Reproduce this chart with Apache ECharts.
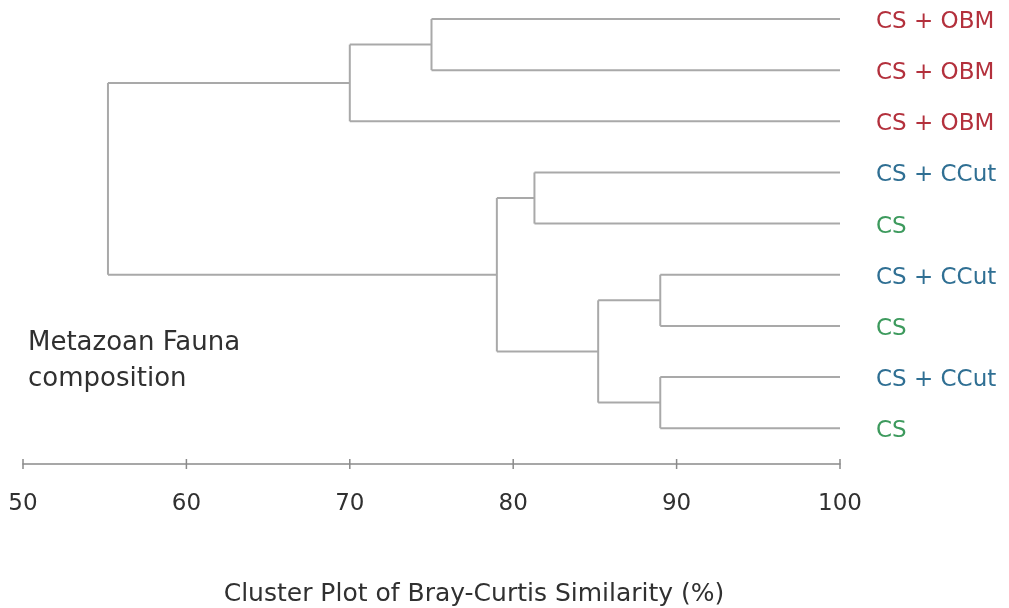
<!DOCTYPE html>
<html>
<head>
<meta charset="utf-8">
<script src="https://cdn.jsdelivr.net/npm/echarts@6/dist/echarts.min.js"></script>
<style>
  html, body { margin: 0; padding: 0; background: #ffffff; }
  #chart { width: 1009px; height: 608px; }
</style>
</head>
<body>
<div id="chart"></div>
<script>
// Leaves of the dendrogram, top to bottom
const leafNames = ['CS + OBM', 'CS + OBM', 'CS + OBM', 'CS + CCut', 'CS', 'CS + CCut', 'CS', 'CS + CCut', 'CS'];
const leafGroups = ['OBM', 'OBM', 'OBM', 'CCut', 'CS', 'CCut', 'CS', 'CCut', 'CS'];

// Agglomeration steps: node ids 0..8 are leaves, each merge creates node 9, 10, ...
const mergeA = [0, 9, 3, 5, 7, 12, 11, 10];
const mergeB = [1, 2, 4, 6, 8, 13, 14, 15];
const mergeSimilarity = [75, 70, 81.3, 89, 89, 85.2, 79, 55.2];

// Axis ticks
const xTicks = [50, 60, 70, 80, 90, 100];

const groupColors = { OBM: '#b3303c', CCut: '#2f6f93', CS: '#3d9a5d' };

// Node positions in data space: x = similarity, y = leaf slot
const nodeX = leafNames.map(() => 100);
const nodeY = leafNames.map((_, i) => i);
const segments = [];
mergeA.forEach((a, k) => {
  const b = mergeB[k];
  const s = mergeSimilarity[k];
  segments.push([nodeX[a], nodeY[a], s, nodeY[a]]);
  segments.push([nodeX[b], nodeY[b], s, nodeY[b]]);
  segments.push([s, nodeY[a], s, nodeY[b]]);
  nodeX.push(s);
  nodeY.push((nodeY[a] + nodeY[b]) / 2);
});

const leafData = leafNames.map((name, i) => [100, i, name, leafGroups[i]]);

const fontFamily = '"DejaVu Sans", Verdana, sans-serif';
const yMax = 8.7;
const axisColor = '#8a8a8a';
const textColor = '#303030';

const chart = echarts.init(document.getElementById('chart'));
chart.setOption({
  backgroundColor: '#ffffff',
  animation: false,
  grid: { left: 23, right: 169, top: 19, bottom: 144, containLabel: false },
  xAxis: {
    type: 'value', min: xTicks[0], max: xTicks[xTicks.length - 1], interval: 10,
    position: 'bottom',
    axisLine: { onZero: false, lineStyle: { color: axisColor, width: 1.5 } },
    axisTick: { show: false },
    axisLabel: { fontSize: 23, color: textColor, margin: 29, fontFamily: fontFamily },
    splitLine: { show: false }
  },
  yAxis: {
    type: 'value', min: 0, max: yMax, inverse: true, show: false
  },
  series: [
    {
      // dendrogram branches
      type: 'custom',
      coordinateSystem: 'cartesian2d',
      data: segments,
      encode: { x: [0, 2], y: [1, 3] },
      renderItem: function (params, api) {
        const p1 = api.coord([api.value(0), api.value(1)]);
        const p2 = api.coord([api.value(2), api.value(3)]);
        return {
          type: 'line',
          shape: { x1: p1[0], y1: p1[1], x2: p2[0], y2: p2[1] },
          style: { stroke: '#a9a9a9', lineWidth: 2 }
        };
      },
      silent: true
    },
    {
      // tick marks crossing the axis line
      type: 'custom',
      coordinateSystem: 'cartesian2d',
      data: xTicks.map(v => [v, yMax]),
      renderItem: function (params, api) {
        const p = api.coord([api.value(0), api.value(1)]);
        return {
          type: 'line',
          shape: { x1: p[0], y1: p[1] - 5, x2: p[0], y2: p[1] + 5 },
          style: { stroke: axisColor, lineWidth: 1.5 }
        };
      },
      clip: false,
      silent: true
    },
    {
      // leaf labels
      type: 'custom',
      coordinateSystem: 'cartesian2d',
      data: leafData,
      encode: { x: 0, y: 1 },
      renderItem: function (params, api) {
        const p = api.coord([api.value(0), api.value(1)]);
        const item = leafData[params.dataIndex];
        return {
          type: 'text',
          x: p[0] + 36,
          y: p[1] + 3,
          style: {
            text: item[2],
            fill: groupColors[item[3]],
            font: '23px ' + fontFamily,
            textAlign: 'left',
            textVerticalAlign: 'middle'
          }
        };
      },
      silent: true
    }
  ],
  graphic: [
    {
      type: 'text', left: 28, top: 325,
      style: {
        text: 'Metazoan Fauna\ncomposition',
        fill: textColor,
        font: '26px ' + fontFamily,
        lineHeight: 36
      }
    },
    {
      type: 'text', x: 474, y: 594,
      style: {
        text: 'Cluster Plot of Bray-Curtis Similarity (%)',
        fill: textColor,
        font: '25px ' + fontFamily,
        textAlign: 'center',
        textVerticalAlign: 'middle'
      }
    }
  ]
});
</script>
</body>
</html>
